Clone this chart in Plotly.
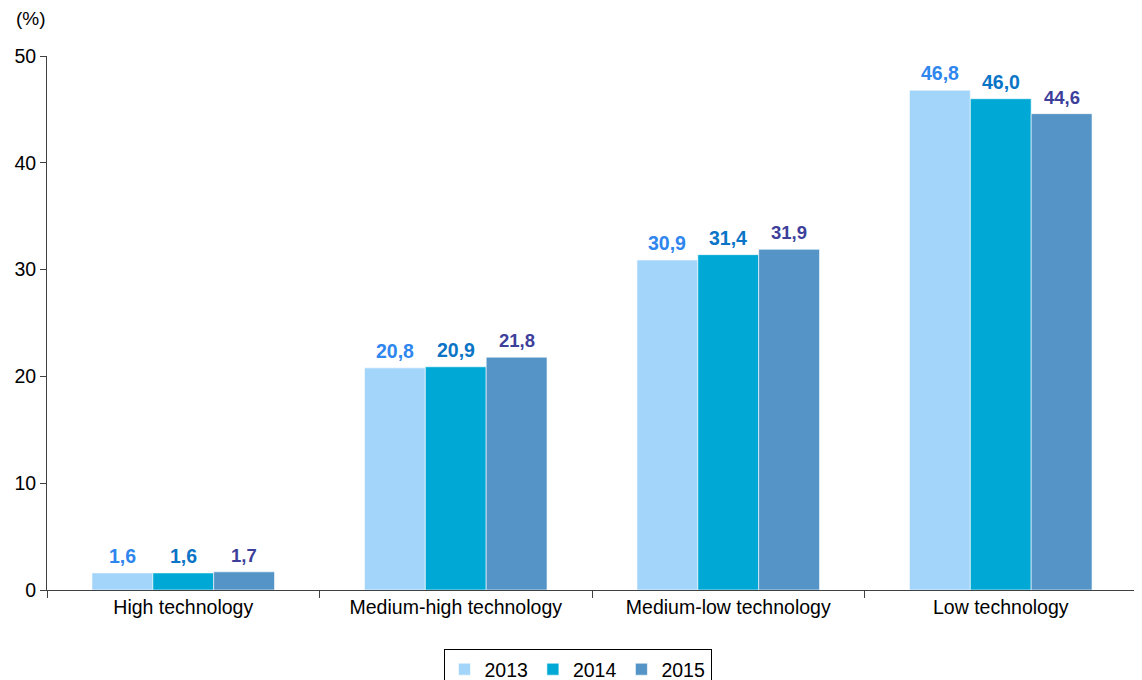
import plotly.graph_objects as go

categories = ["High technology", "Medium-high technology", "Medium-low technology", "Low technology"]
years = ["2013", "2014", "2015"]
v2013 = [1.6, 20.8, 30.9, 46.8]
v2014 = [1.6, 20.9, 31.4, 46.0]
v2015 = [1.7, 21.8, 31.9, 44.6]
y_ticks = [0, 10, 20, 30, 40, 50]

series = [v2013, v2014, v2015]
bar_colors = ["#A3D5FB", "#00A9D5", "#5594C6"]
label_colors = ["#2E86EE", "#0A74C6", "#3D3F9B"]
label_sizes = [19.5, 19.5, 18.5]

FONT = "Liberation Sans, Arial, sans-serif"
fig = go.Figure()
for name, vals, col in zip(years, series, bar_colors):
    fig.add_trace(go.Bar(
        x=categories, y=vals, name=name,
        marker=dict(color=col, line=dict(color="white", width=0.6)),
        hoverinfo="x+y+name",
    ))

bargap = 0.33
bw = (1 - bargap) / 3
annotations = []
for k, (vals, lc, ls) in enumerate(zip(series, label_colors, label_sizes)):
    off = (k - 1) * bw
    for i, v in enumerate(vals):
        annotations.append(dict(
            x=i + off, y=v, xref="x", yref="y",
            text=f"<b>{v:.1f}</b>".replace(".", ","),
            showarrow=False, yanchor="bottom", yshift=4,
            font=dict(family=FONT, size=ls, color=lc),
        ))
annotations.append(dict(
    x=-0.03, y=1.071, xref="paper", yref="paper", text="(%)",
    showarrow=False, xanchor="left", yanchor="middle",
    font=dict(family=FONT, size=19, color="#000000"),
))

fig.update_layout(
    width=1142, height=680,
    margin=dict(l=39, r=13, t=48, b=98),
    paper_bgcolor="white", plot_bgcolor="white",
    barmode="group", bargap=bargap, bargroupgap=0,
    font=dict(family=FONT, size=19.5, color="#000000"),
    annotations=annotations,
    showlegend=True,
    legend=dict(
        orientation="h", x=0.4867, xanchor="center",
        yref="container", y=(680 - 641) / 680, yanchor="top",
        bordercolor="#000000", borderwidth=1, bgcolor="white",
        font=dict(family=FONT, size=19.5, color="#000000"),
        itemwidth=30, tracegroupgap=0,
    ),
    xaxis=dict(
        type="category", showline=True, linecolor="#404040", linewidth=1,
        ticks="outside", tickson="boundaries", ticklen=7, tickcolor="#404040",
        showgrid=False, zeroline=False, automargin=False,
        tickfont=dict(family=FONT, size=19.5, color="#000000"),
    ),
    yaxis=dict(
        range=[0, 50], tickvals=y_ticks, showline=True, linecolor="#404040",
        linewidth=1, ticks="outside", ticklen=6, tickcolor="#404040",
        showgrid=False, zeroline=False, automargin=False,
        tickfont=dict(family=FONT, size=19.5, color="#000000"),
    ),
)

fig.write_html("out.html")
